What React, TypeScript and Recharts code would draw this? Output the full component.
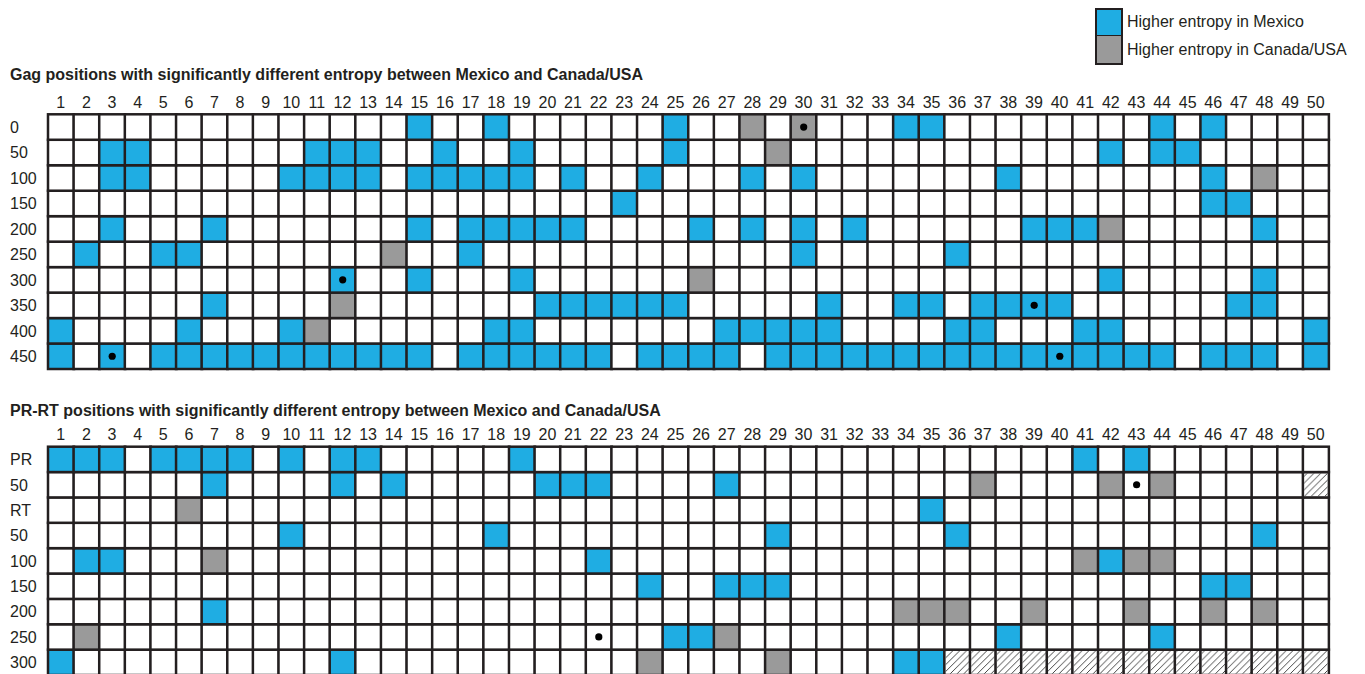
import React from "react";
import { BarChart, Bar, XAxis, YAxis } from "recharts";

// positions along the sequence (columns)
const POSITIONS = [
  1, 2, 3, 4, 5, 6, 7, 8, 9, 10, 11, 12, 13, 14, 15, 16, 17, 18, 19, 20, 21, 22, 23, 24, 25,
  26, 27, 28, 29, 30, 31, 32, 33, 34, 35, 36, 37, 38, 39, 40, 41, 42, 43, 44, 45, 46, 47, 48, 49, 50,
];

const GAG_ROWS = ["0", "50", "100", "150", "200", "250", "300", "350", "400", "450"];
const PRRT_ROWS = ["PR", "50", "RT", "50", "100", "150", "200", "250", "300"];

// columns with higher entropy in Mexico, per row
const GAG_MEXICO = [
  [15, 18, 25, 34, 35, 44, 46],
  [3, 4, 11, 12, 13, 16, 19, 25, 42, 44, 45],
  [3, 4, 10, 11, 12, 13, 15, 16, 17, 18, 19, 21, 24, 28, 30, 38, 46],
  [23, 46, 47],
  [3, 7, 15, 17, 18, 19, 20, 21, 26, 28, 30, 32, 39, 40, 41, 48],
  [2, 5, 6, 17, 30, 36],
  [12, 15, 19, 42, 48],
  [7, 20, 21, 22, 23, 24, 25, 31, 34, 35, 37, 38, 39, 40, 47, 48],
  [1, 6, 10, 18, 19, 27, 28, 29, 30, 31, 36, 37, 41, 42, 50],
  [1, 3, 5, 6, 7, 8, 9, 10, 11, 12, 13, 14, 15, 17, 18, 19, 20, 21, 22, 24, 25, 26, 27, 29, 30,
    31, 32, 33, 34, 35, 36, 37, 38, 39, 40, 41, 42, 43, 44, 46, 47, 48, 50],
];
// columns with higher entropy in Canada/USA, per row
const GAG_CANADA = [[28, 30], [29], [48], [], [42], [14], [26], [12], [11], []];
const GAG_DOTS = [[0, 30], [6, 12], [7, 39], [9, 3], [9, 40]];
const GAG_HATCHED: number[][] = [[], [], [], [], [], [], [], [], [], []];

const PRRT_MEXICO = [
  [1, 2, 3, 5, 6, 7, 8, 10, 12, 13, 19, 41, 43],
  [7, 12, 14, 20, 21, 22, 27],
  [35],
  [10, 18, 29, 36, 48],
  [2, 3, 22, 42],
  [24, 27, 28, 29, 46, 47],
  [7],
  [25, 26, 38, 44],
  [1, 12, 34, 35],
];
const PRRT_CANADA = [
  [],
  [37, 42, 44],
  [6],
  [],
  [7, 41, 43, 44],
  [],
  [34, 35, 36, 39, 43, 46, 48],
  [2, 27],
  [24, 29],
];
const PRRT_DOTS = [[1, 43], [7, 22]];
const PRRT_HATCHED = [
  [], [50], [], [], [], [], [], [],
  [36, 37, 38, 39, 40, 41, 42, 43, 44, 45, 46, 47, 48, 49, 50],
];

const LEGEND_LABELS = ["Higher entropy in Mexico", "Higher entropy in Canada/USA"];

const BLUE = "#1fade3";
const GRAY = "#9a9a9a";
const INK = "#231f20";
const FONT = "'Liberation Sans', Arial, sans-serif";

type Grid = {
  rows: string[];
  mexico: number[][];
  canada: number[][];
  dots: number[][];
  hatched: number[][];
};

const GAG: Grid = { rows: GAG_ROWS, mexico: GAG_MEXICO, canada: GAG_CANADA, dots: GAG_DOTS, hatched: GAG_HATCHED };
const PRRT: Grid = { rows: PRRT_ROWS, mexico: PRRT_MEXICO, canada: PRRT_CANADA, dots: PRRT_DOTS, hatched: PRRT_HATCHED };

function buildData(n: number) {
  return POSITIONS.map((pos) => {
    const d: any = { pos };
    for (let r = 0; r < n; r++) d["r" + r] = 1;
    return d;
  });
}

function GridCell(props: any) {
  const { x, width, payload, ri, grid } = props;
  const y = Math.min(props.y, props.y + props.height);
  const height = Math.abs(props.height);
  const col = payload.pos;
  let fill = "#fff";
  if (grid.mexico[ri].includes(col)) fill = BLUE;
  else if (grid.canada[ri].includes(col)) fill = GRAY;
  const hatched = grid.hatched[ri].includes(col);
  const dot = grid.dots.some((d: number[]) => d[0] === ri && d[1] === col);
  return (
    <g>
      <rect x={x} y={y} width={width} height={height} fill={fill} stroke={INK} strokeWidth={2.5} />
      {hatched && <rect x={x + 1.3} y={y + 1.3} width={width - 2.6} height={height - 2.6} fill="url(#hatch)" />}
      {dot && <circle cx={x + width / 2} cy={y + height / 2} r={3.6} fill="#000" />}
    </g>
  );
}

function GridChart({ grid, height, margin, tickSize }: { grid: Grid; height: number; margin: any; tickSize: number }) {
  const n = grid.rows.length;
  const data = buildData(n);
  const centers = grid.rows.map((_, i) => n - i - 0.5);
  const order = grid.rows.map((_, i) => n - 1 - i);
  return (
    <BarChart width={1365} height={height} data={data} margin={margin} barCategoryGap={0} barGap={0}>
      <XAxis
        dataKey="pos"
        orientation="top"
        axisLine={false}
        tickLine={false}
        interval={0}
        height={20}
        tickSize={tickSize}
        tickMargin={2}
        tick={{ fontSize: 16, fill: INK, fontFamily: FONT }}
      />
      <YAxis
        type="number"
        domain={[0, n]}
        ticks={centers}
        interval={0}
        width={40}
        axisLine={false}
        tickLine={false}
        tick={(p: any) => (
          <text x={10} y={p.y} dy="0.36em" fontSize={16} fill={INK} fontFamily={FONT}>
            {grid.rows[Math.round(n - p.payload.value - 0.5)]}
          </text>
        )}
      />
      {order.map((ri) => (
        <Bar
          key={ri}
          dataKey={"r" + ri}
          stackId="g"
          isAnimationActive={false}
          shape={(p: any) => <GridCell {...p} ri={ri} grid={grid} />}
        />
      ))}
    </BarChart>
  );
}

const titleStyle: React.CSSProperties = {
  position: "absolute",
  left: 10,
  fontFamily: FONT,
  fontWeight: "bold",
  fontSize: 16,
  lineHeight: "16px",
  color: INK,
  whiteSpace: "nowrap",
};

export default function App() {
  return (
    <div style={{ position: "absolute", left: 0, top: 0, width: 1365, height: 674, overflow: "hidden", background: "#fff" }}>
      <svg width={0} height={0} style={{ position: "absolute" }}>
        <defs>
          <pattern id="hatch" patternUnits="userSpaceOnUse" width={6.8} height={6.8}>
            <path d="M0,6.8 L6.8,0 M-1.7,1.7 L1.7,-1.7 M5.1,8.5 L8.5,5.1" stroke="#333" strokeWidth={0.9} />
          </pattern>
        </defs>
      </svg>

      {/* legend */}
      {LEGEND_LABELS.map((label, i) => (
        <React.Fragment key={label}>
          <div
            style={{
              position: "absolute",
              left: 1095,
              top: 8 + i * 27.5,
              width: 28,
              height: 29,
              boxSizing: "border-box",
              border: `2.5px solid ${INK}`,
              borderTopWidth: i === 0 ? 2.5 : 0,
              background: i === 0 ? BLUE : GRAY,
            }}
          />
          <div
            style={{
              position: "absolute",
              left: 1127,
              top: 14 + i * 28,
              fontFamily: FONT,
              fontSize: 16,
              lineHeight: "16px",
              color: INK,
              whiteSpace: "nowrap",
            }}
          >
            {label}
          </div>
        </React.Fragment>
      ))}

      <div style={{ ...titleStyle, top: 67 }}>
        Gag positions with significantly different entropy between Mexico and Canada/USA
      </div>
      <div style={{ position: "absolute", left: 0, top: 0 }}>
        <GridChart grid={GAG} height={374} margin={{ top: 94.3, right: 36.5, left: 8, bottom: 5 }} tickSize={4} />
      </div>

      <div style={{ ...titleStyle, top: 403 }}>
        PR-RT positions with significantly different entropy between Mexico and Canada/USA
      </div>
      <div style={{ position: "absolute", left: 0, top: 400 }}>
        <GridChart grid={PRRT} height={277} margin={{ top: 26.7, right: 36.5, left: 8, bottom: 2 }} tickSize={5} />
      </div>
    </div>
  );
}
